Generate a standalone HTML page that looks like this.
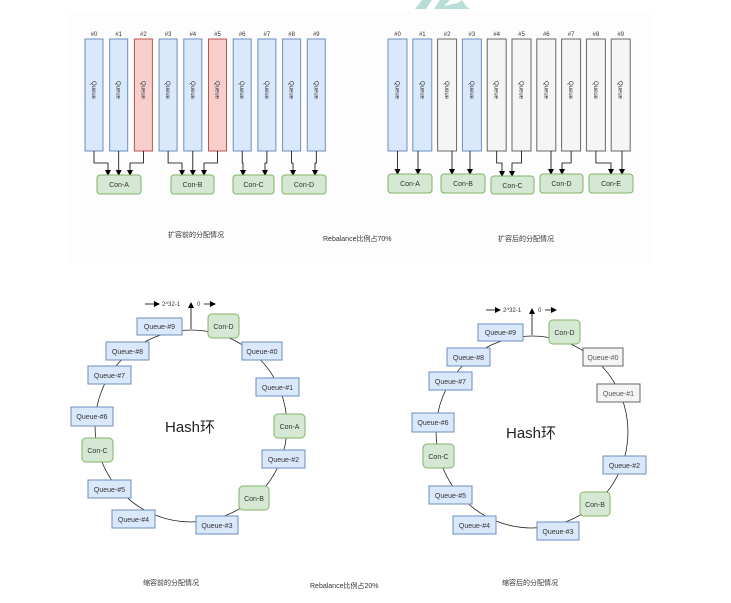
<!DOCTYPE html>
<html><head><meta charset="utf-8"><style>
html,body{margin:0;padding:0;background:#fff;}
svg{display:block;font-family:"Liberation Sans","Noto Sans CJK SC",sans-serif;}
</style></head><body>
<svg width="731" height="603" viewBox="0 0 731 603" xmlns="http://www.w3.org/2000/svg">
<defs>
<marker id="ar" markerWidth="6" markerHeight="6" refX="5" refY="3" orient="auto" markerUnits="userSpaceOnUse"><path d="M0,0 L6,3 L0,6 Z" fill="#000"/></marker>
</defs>
<rect x="66" y="12" width="586" height="252" fill="#fdfdfd"/>
<path d="M415,9 L422,0 L432,0 L426,9 Z M434,9 L440,0 L450,0 L444,6 L458,3 L462,0 L466,6 L470,9 Z" fill="#b8ddd6"/>

<!-- TOP LEFT -->
<g font-size="6" fill="#333" text-anchor="middle">
<text x="94" y="36">#0</text><text x="118.7" y="36">#1</text><text x="143.4" y="36">#2</text><text x="168.1" y="36">#3</text><text x="192.8" y="36">#4</text><text x="217.5" y="36">#5</text><text x="242.2" y="36">#6</text><text x="266.9" y="36">#7</text><text x="291.6" y="36">#8</text><text x="316.3" y="36">#9</text>
</g>
<g stroke-width="1">
<rect x="85" y="39" width="18" height="112" fill="#dae8fc" stroke="#6c8ebf"/>
<rect x="109.7" y="39" width="18" height="112" fill="#dae8fc" stroke="#6c8ebf"/>
<rect x="134.4" y="39" width="18" height="112" fill="#f8cecc" stroke="#b85450"/>
<rect x="159.1" y="39" width="18" height="112" fill="#dae8fc" stroke="#6c8ebf"/>
<rect x="183.8" y="39" width="18" height="112" fill="#dae8fc" stroke="#6c8ebf"/>
<rect x="208.5" y="39" width="18" height="112" fill="#f8cecc" stroke="#b85450"/>
<rect x="233.2" y="39" width="18" height="112" fill="#dae8fc" stroke="#6c8ebf"/>
<rect x="257.9" y="39" width="18" height="112" fill="#dae8fc" stroke="#6c8ebf"/>
<rect x="282.6" y="39" width="18" height="112" fill="#dae8fc" stroke="#6c8ebf"/>
<rect x="307.3" y="39" width="18" height="112" fill="#dae8fc" stroke="#6c8ebf"/>
</g>
<g font-size="6" fill="#333" text-anchor="middle">
<text transform="translate(92,90) rotate(90)">Queue</text>
<text transform="translate(116.7,90) rotate(90)">Queue</text>
<text transform="translate(141.4,90) rotate(90)">Queue</text>
<text transform="translate(166.1,90) rotate(90)">Queue</text>
<text transform="translate(190.8,90) rotate(90)">Queue</text>
<text transform="translate(215.5,90) rotate(90)">Queue</text>
<text transform="translate(240.2,90) rotate(90)">Queue</text>
<text transform="translate(264.9,90) rotate(90)">Queue</text>
<text transform="translate(289.6,90) rotate(90)">Queue</text>
<text transform="translate(314.3,90) rotate(90)">Queue</text>
</g>
<g fill="none" stroke="#000" stroke-width="0.8" marker-end="url(#ar)">
<path d="M94,151 V163 H108 V175"/>
<path d="M118.7,151 V175"/>
<path d="M143.4,151 V163 H130 V175"/>
<path d="M168.1,151 V163 H182 V175"/>
<path d="M192.8,151 V175"/>
<path d="M217.5,151 V163 H204 V175"/>
<path d="M242.2,151 V163 H243 V175"/>
<path d="M266.9,151 V163 H265 V175"/>
<path d="M291.6,151 V163 H293 V175"/>
<path d="M316.3,151 V163 H315 V175"/>
</g>
<g fill="#d5e8d4" stroke="#82b366">
<rect x="97" y="175" width="44" height="19" rx="3"/>
<rect x="171" y="175" width="43" height="19" rx="3"/>
<rect x="233" y="175" width="41" height="19" rx="3"/>
<rect x="282" y="175" width="44" height="19" rx="3"/>
</g>
<g font-size="7" fill="#333" text-anchor="middle">
<text x="119" y="187">Con-A</text><text x="192.5" y="187">Con-B</text><text x="253.5" y="187">Con-C</text><text x="304" y="187">Con-D</text>
</g>
<text x="168" y="237" font-size="7" fill="#333">扩容前的分配情况</text>
<text x="323" y="241" font-size="7" fill="#333">Rebalance比例占70%</text>

<!-- TOP RIGHT -->
<g font-size="6" fill="#333" text-anchor="middle">
<text x="397.5" y="36">#0</text><text x="422.3" y="36">#1</text><text x="447.1" y="36">#2</text><text x="471.9" y="36">#3</text><text x="496.7" y="36">#4</text><text x="521.5" y="36">#5</text><text x="546.3" y="36">#6</text><text x="571.1" y="36">#7</text><text x="595.9" y="36">#8</text><text x="620.7" y="36">#9</text>
</g>
<g>
<rect x="388" y="39" width="19" height="112" fill="#dae8fc" stroke="#6c8ebf"/>
<rect x="412.8" y="39" width="19" height="112" fill="#dae8fc" stroke="#6c8ebf"/>
<rect x="437.6" y="39" width="19" height="112" fill="#f5f5f5" stroke="#666"/>
<rect x="462.4" y="39" width="19" height="112" fill="#dae8fc" stroke="#6c8ebf"/>
<rect x="487.2" y="39" width="19" height="112" fill="#f5f5f5" stroke="#666"/>
<rect x="512" y="39" width="19" height="112" fill="#f5f5f5" stroke="#666"/>
<rect x="536.8" y="39" width="19" height="112" fill="#f5f5f5" stroke="#666"/>
<rect x="561.6" y="39" width="19" height="112" fill="#f5f5f5" stroke="#666"/>
<rect x="586.4" y="39" width="19" height="112" fill="#f5f5f5" stroke="#666"/>
<rect x="611.2" y="39" width="19" height="112" fill="#f5f5f5" stroke="#666"/>
</g>
<g font-size="6" fill="#333" text-anchor="middle">
<text transform="translate(395.5,90) rotate(90)">Queue</text>
<text transform="translate(420.3,90) rotate(90)">Queue</text>
<text transform="translate(445.1,90) rotate(90)">Queue</text>
<text transform="translate(469.9,90) rotate(90)">Queue</text>
<text transform="translate(494.7,90) rotate(90)">Queue</text>
<text transform="translate(519.5,90) rotate(90)">Queue</text>
<text transform="translate(544.3,90) rotate(90)">Queue</text>
<text transform="translate(569.1,90) rotate(90)">Queue</text>
<text transform="translate(593.9,90) rotate(90)">Queue</text>
<text transform="translate(618.7,90) rotate(90)">Queue</text>
</g>
<g fill="none" stroke="#000" stroke-width="0.8" marker-end="url(#ar)">
<path d="M397.5,151 V174"/>
<path d="M418,151 V174"/>
<path d="M452,151 V174"/>
<path d="M470,151 V174"/>
<path d="M496.7,151 V163 H502 V176"/>
<path d="M521.5,151 V163 H512 V176"/>
<path d="M551,151 V174"/>
<path d="M571.1,151 V163 H562 V174"/>
<path d="M595.9,151 V163 H611 V174"/>
<path d="M622,151 V174"/>
</g>
<g fill="#d5e8d4" stroke="#82b366">
<rect x="388" y="174" width="44" height="19" rx="3"/>
<rect x="441" y="174" width="44" height="19" rx="3"/>
<rect x="491" y="176" width="43" height="18" rx="3"/>
<rect x="540" y="174" width="43" height="19" rx="3"/>
<rect x="589" y="174" width="44" height="19" rx="3"/>
</g>
<g font-size="7" fill="#333" text-anchor="middle">
<text x="410" y="186">Con-A</text><text x="463" y="186">Con-B</text><text x="512.5" y="188">Con-C</text><text x="561.5" y="186">Con-D</text><text x="611" y="186">Con-E</text>
</g>
<text x="498" y="241" font-size="7" fill="#333">扩容后的分配情况</text>

<!-- BOTTOM LEFT RING -->
<g id="ringL">
<circle cx="191" cy="426" r="96" fill="none" stroke="#222" stroke-width="0.8"/>
<path d="M191,329 V303" stroke="#000" stroke-width="0.8" marker-end="url(#ar)"/>
<path d="M145,304 H159" stroke="#000" stroke-width="0.8" marker-end="url(#ar)"/>
<path d="M204,304 H215" stroke="#000" stroke-width="0.8" marker-end="url(#ar)"/>
<text x="162" y="306" font-size="6" fill="#333">2^32-1</text>
<text x="197" y="306" font-size="6" fill="#333">0</text>
<g fill="#dae8fc" stroke="#6c8ebf">
<rect x="137" y="318" width="45" height="17"/>
<rect x="242" y="342" width="40" height="18"/>
<rect x="106" y="342" width="43" height="18"/>
<rect x="88" y="366" width="43" height="18"/>
<rect x="256" y="378" width="43" height="18"/>
<rect x="71" y="407" width="42" height="19"/>
<rect x="262" y="450" width="43" height="18"/>
<rect x="88" y="480" width="43" height="18"/>
<rect x="112" y="510" width="43" height="18"/>
<rect x="196" y="516" width="42" height="18"/>
</g>
<g fill="#d5e8d4" stroke="#82b366">
<rect x="208" y="314" width="31" height="24" rx="4"/>
<rect x="274" y="414" width="31" height="24" rx="4"/>
<rect x="82" y="438" width="31" height="24" rx="4"/>
<rect x="239" y="486" width="30" height="24" rx="4"/>
</g>
<g font-size="7" fill="#333" text-anchor="middle">
<text x="159.5" y="329">Queue-#9</text>
<text x="262" y="354">Queue-#0</text>
<text x="127.5" y="354">Queue-#8</text>
<text x="109.5" y="378">Queue-#7</text>
<text x="277.5" y="390">Queue-#1</text>
<text x="92" y="419">Queue-#6</text>
<text x="283.5" y="462">Queue-#2</text>
<text x="109.5" y="492">Queue-#5</text>
<text x="133.5" y="522">Queue-#4</text>
<text x="217" y="528">Queue-#3</text>
<text x="223.5" y="329">Con-D</text>
<text x="289.5" y="429">Con-A</text>
<text x="97.5" y="453">Con-C</text>
<text x="254" y="501">Con-B</text>
</g>
<text x="190" y="432" font-size="15" fill="#222" text-anchor="middle">Hash环</text>
</g>
<text x="143" y="585" font-size="7" fill="#333">缩容前的分配情况</text>
<text x="310" y="588" font-size="7" fill="#333">Rebalance比例占20%</text>

<!-- BOTTOM RIGHT RING -->
<g transform="translate(341,6)">
<circle cx="191" cy="426" r="96" fill="none" stroke="#222" stroke-width="0.8"/>
<path d="M191,329 V303" stroke="#000" stroke-width="0.8" marker-end="url(#ar)"/>
<path d="M145,304 H159" stroke="#000" stroke-width="0.8" marker-end="url(#ar)"/>
<path d="M204,304 H215" stroke="#000" stroke-width="0.8" marker-end="url(#ar)"/>
<text x="162" y="306" font-size="6" fill="#333">2^32-1</text>
<text x="197" y="306" font-size="6" fill="#333">0</text>
<g fill="#dae8fc" stroke="#6c8ebf">
<rect x="137" y="318" width="45" height="17"/>
<rect x="106" y="342" width="43" height="18"/>
<rect x="88" y="366" width="43" height="18"/>
<rect x="71" y="407" width="42" height="19"/>
<rect x="262" y="450" width="43" height="18"/>
<rect x="88" y="480" width="43" height="18"/>
<rect x="112" y="510" width="43" height="18"/>
<rect x="196" y="516" width="42" height="18"/>
</g>
<g fill="#f5f5f5" stroke="#666">
<rect x="242" y="342" width="40" height="18"/>
<rect x="256" y="378" width="43" height="18"/>
</g>
<g fill="#d5e8d4" stroke="#82b366">
<rect x="208" y="314" width="31" height="24" rx="4"/>
<rect x="82" y="438" width="31" height="24" rx="4"/>
<rect x="239" y="486" width="30" height="24" rx="4"/>
</g>
<g font-size="7" fill="#333" text-anchor="middle">
<text x="159.5" y="329">Queue-#9</text>
<text x="262" y="354" fill="#555">Queue-#0</text>
<text x="127.5" y="354">Queue-#8</text>
<text x="109.5" y="378">Queue-#7</text>
<text x="277.5" y="390" fill="#555">Queue-#1</text>
<text x="92" y="419">Queue-#6</text>
<text x="283.5" y="462">Queue-#2</text>
<text x="109.5" y="492">Queue-#5</text>
<text x="133.5" y="522">Queue-#4</text>
<text x="217" y="528">Queue-#3</text>
<text x="223.5" y="329">Con-D</text>
<text x="97.5" y="453">Con-C</text>
<text x="254" y="501">Con-B</text>
</g>
<text x="190" y="432" font-size="15" fill="#222" text-anchor="middle">Hash环</text>
</g>
<text x="502" y="585" font-size="7" fill="#333">缩容后的分配情况</text>
</svg>
</body></html>
